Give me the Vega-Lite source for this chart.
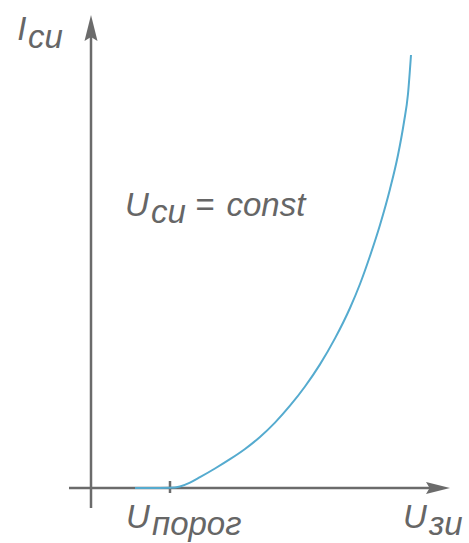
{
  "$schema": "https://vega.github.io/schema/vega-lite/v6.json",
  "width": 469,
  "height": 543,
  "autosize": {"type": "fit", "contains": "padding"},
  "padding": 0,
  "background": "white",
  "config": {"view": {"stroke": null}},
  "datasets": {
    "axes": [
      {"part": "x axis", "xa": -0.557, "xb": 8.633, "ya": 0, "yb": 0},
      {"part": "y axis", "xa": 0, "xb": 0, "ya": -0.462, "yb": 10.577},
      {"part": "threshold tick", "xa": 2.0, "xb": 2.0, "ya": -0.115, "yb": 0.162}
    ],
    "arrowX": [{"x": 8.785, "y": 0}],
    "arrowY": [{"x": 0, "y": 10.624}],
    "curve": [
      {"u": 1.114, "i": 0.0},
      {"u": 1.5, "i": 0.0},
      {"u": 2.0, "i": 0.004},
      {"u": 2.253, "i": 0.035},
      {"u": 2.506, "i": 0.125},
      {"u": 2.759, "i": 0.25},
      {"u": 3.139, "i": 0.45},
      {"u": 3.519, "i": 0.665},
      {"u": 3.899, "i": 0.901},
      {"u": 4.278, "i": 1.178},
      {"u": 4.658, "i": 1.51},
      {"u": 5.038, "i": 1.9},
      {"u": 5.418, "i": 2.345},
      {"u": 5.797, "i": 2.855},
      {"u": 6.177, "i": 3.455},
      {"u": 6.557, "i": 4.157},
      {"u": 6.810, "i": 4.711},
      {"u": 7.063, "i": 5.358},
      {"u": 7.316, "i": 6.074},
      {"u": 7.570, "i": 6.905},
      {"u": 7.772, "i": 7.691},
      {"u": 7.924, "i": 8.453},
      {"u": 8.025, "i": 9.099},
      {"u": 8.101, "i": 10.0}
    ],
    "mainLabels": [
      {"t": "I", "x": -1.87, "y": 10.346},
      {"t": "U", "x": 0.861, "y": 6.282},
      {"t": "=", "x": 2.633, "y": 6.282},
      {"t": "const", "x": 3.43, "y": 6.282},
      {"t": "U", "x": 0.886, "y": -0.924},
      {"t": "U", "x": 7.899, "y": -0.924}
    ],
    "subLabels": [
      {"t": "си", "x": -1.595, "y": 10.162},
      {"t": "си", "x": 1.519, "y": 6.12},
      {"t": "порог", "x": 1.544, "y": -1.085},
      {"t": "зи", "x": 8.557, "y": -1.085}
    ]
  },
  "layer": [
    {
      "data": {"name": "axes"},
      "mark": {"type": "rule", "color": "#6b6b6b", "strokeWidth": 2.5},
      "encoding": {
        "x": {"field": "xa", "type": "quantitative", "scale": {"domain": [-2.3038, 9.5696], "nice": false, "zero": false}, "axis": null},
        "x2": {"field": "xb"},
        "y": {"field": "ya", "type": "quantitative", "scale": {"domain": [-1.2702, 11.2702], "nice": false, "zero": false}, "axis": null},
        "y2": {"field": "yb"}
      }
    },
    {
      "data": {"name": "arrowX"},
      "mark": {"type": "point", "shape": "M1,0L-1,-0.5L-0.7,0L-1,0.5Z", "filled": true, "color": "#6b6b6b", "opacity": 1, "size": 576},
      "encoding": {
        "x": {"field": "x", "type": "quantitative", "scale": {"domain": [-2.3038, 9.5696], "nice": false, "zero": false}, "axis": null},
        "y": {"field": "y", "type": "quantitative", "scale": {"domain": [-1.2702, 11.2702], "nice": false, "zero": false}, "axis": null}
      }
    },
    {
      "data": {"name": "arrowY"},
      "mark": {"type": "point", "shape": "M0,-1L-0.5,1L0,0.7L0.5,1Z", "filled": true, "color": "#6b6b6b", "opacity": 1, "size": 676},
      "encoding": {
        "x": {"field": "x", "type": "quantitative", "scale": {"domain": [-2.3038, 9.5696], "nice": false, "zero": false}, "axis": null},
        "y": {"field": "y", "type": "quantitative", "scale": {"domain": [-1.2702, 11.2702], "nice": false, "zero": false}, "axis": null}
      }
    },
    {
      "data": {"name": "curve"},
      "mark": {"type": "line", "color": "#55abcf", "strokeWidth": 2, "interpolate": "monotone"},
      "encoding": {
        "x": {"field": "u", "type": "quantitative", "scale": {"domain": [-2.3038, 9.5696], "nice": false, "zero": false}, "axis": null},
        "y": {"field": "i", "type": "quantitative", "scale": {"domain": [-1.2702, 11.2702], "nice": false, "zero": false}, "axis": null},
        "order": {"field": "u", "type": "quantitative"}
      }
    },
    {
      "data": {"name": "mainLabels"},
      "mark": {"type": "text", "align": "left", "baseline": "alphabetic", "font": "Liberation Sans", "fontStyle": "italic", "fontSize": 33, "color": "#666666"},
      "encoding": {
        "x": {"field": "x", "type": "quantitative", "scale": {"domain": [-2.3038, 9.5696], "nice": false, "zero": false}, "axis": null},
        "y": {"field": "y", "type": "quantitative", "scale": {"domain": [-1.2702, 11.2702], "nice": false, "zero": false}, "axis": null},
        "text": {"field": "t"}
      }
    },
    {
      "data": {"name": "subLabels"},
      "mark": {"type": "text", "align": "left", "baseline": "alphabetic", "font": "Liberation Sans", "fontStyle": "italic", "fontSize": 33, "color": "#666666"},
      "encoding": {
        "x": {"field": "x", "type": "quantitative", "scale": {"domain": [-2.3038, 9.5696], "nice": false, "zero": false}, "axis": null},
        "y": {"field": "y", "type": "quantitative", "scale": {"domain": [-1.2702, 11.2702], "nice": false, "zero": false}, "axis": null},
        "text": {"field": "t"}
      }
    }
  ]
}
